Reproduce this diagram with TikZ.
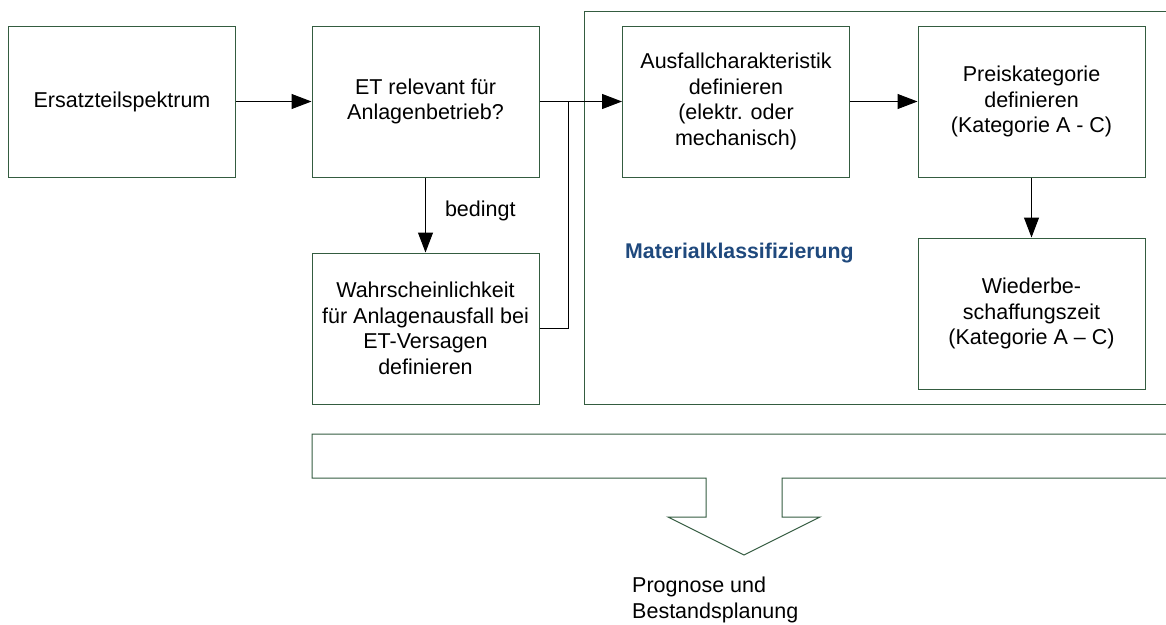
\documentclass[tikz,border=0pt]{standalone}
\usepackage{fontspec}
\setmainfont{Liberation Sans}
\usetikzlibrary{arrows.meta}
\definecolor{boxgreen}{RGB}{52,92,64}
\definecolor{titleblue}{RGB}{31,73,125}
\begin{document}
\begin{tikzpicture}[x=1pt,y=-1pt,
  box/.style={draw=boxgreen,line width=1pt,minimum width=227pt,minimum height=151pt,align=center,inner sep=0pt,
    font=\fontsize{21.5}{25.5}\selectfont,execute at begin node={\vspace*{4pt}}},
  conn/.style={draw=black,line width=1pt,-{Triangle[length=20pt,width=15pt]}},
  lbl/.style={font=\fontsize{21.5}{25.5}\selectfont,inner sep=0pt}]
\useasboundingbox (0,0) rectangle (1166,624);
% frame of Materialklassifizierung
\draw[boxgreen,line width=1pt] (1166,11) -- (584,11) -- (584,404) -- (1166,404);
\node[font=\fontsize{21.3}{25}\selectfont\bfseries,text=titleblue,anchor=west,inner sep=0pt] (mk) at (625,253) {Materialklassifizierung};
% boxes
\node[box] (b1) at (122,101.5) {Ersatzteilspektrum};
\node[box] (b2) at (425.5,101.5) {ET relevant für\\Anlagenbetrieb?};
\node[box] (b3) at (425.5,328.5) {Wahrscheinlichkeit\\für Anlagenausfall bei\\ET-Versagen\\definieren};
\node[box] (b4) at (736,101.5) {Ausfallcharakteristik\\definieren\\(elektr. oder\\mechanisch)};
\node[box] (b5) at (1031.5,101.5) {Preiskategorie\\definieren\\(Kategorie A - C)};
\node[box] (b6) at (1031.5,313.5) {Wiederbe-\\schaffungszeit\\(Kategorie A – C)};
% connectors
\coordinate (j) at (568,101.5);
\draw[conn] (b1.east) -- (b2.west);
\draw[conn] (b2.east) -- (b4.west);
\draw[line width=1pt] (b3.east) -| (j);
\draw[conn] (b2.south) -- node[lbl,anchor=west,pos=0.45,xshift=19pt] (bed) {bedingt} (b3.north);
\draw[conn] (b4.east) -- (b5.west);
\draw[conn] (b5.south) -- (b6.north);
% bottom bracket arrow
\draw[boxgreen,line width=1pt] (1166,434) -- (312,434) -- (312,478) -- (706,478) -- (706,517) -- (668,517)
  -- (744,555) -- (820,517) -- (782,517) -- (782,478) -- (1166,478);
\node[lbl,anchor=north west,align=left] (prog) at (632,577) {Prognose und\\Bestandsplanung};
\end{tikzpicture}
\end{document}
